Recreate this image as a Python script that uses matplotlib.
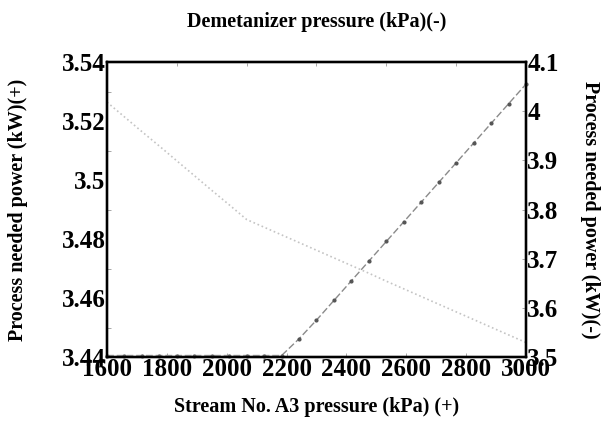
import numpy as np
import matplotlib
matplotlib.use("Agg")
import matplotlib.pyplot as plt
from matplotlib.ticker import MultipleLocator

plt.rcParams['font.family'] = ['Liberation Serif', 'DejaVu Serif']
plt.rcParams['font.weight'] = 'bold'

# stream A3 pressure (kPa), shared x for both curves
a3_pressure = [1600, 1658.3, 1716.7, 1775, 1833.3, 1891.7, 1950, 2008.3, 2066.7,
               2125, 2183.3, 2241.7, 2300, 2358.3, 2416.7, 2475, 2533.3, 2591.7,
               2650, 2708.3, 2766.7, 2825, 2883.3, 2941.7, 3000]

# power vs A3 pressure (left axis, dotted)
power_a3 = [3.5264, 3.5214, 3.5164, 3.5115, 3.5065, 3.5015, 3.4965, 3.4916, 3.4866,
            3.4840, 3.4814, 3.4788, 3.4762, 3.4736, 3.4710, 3.4684, 3.4657, 3.4631,
            3.4605, 3.4579, 3.4553, 3.4527, 3.4501, 3.4475, 3.4449]

# power vs demetanizer pressure (right axis, dashed with markers)
power_demet = [3.503, 3.503, 3.503, 3.503, 3.503, 3.503, 3.503, 3.503, 3.503, 3.503, 3.503,
               3.537, 3.575, 3.615, 3.655, 3.695, 3.735, 3.775, 3.815,
               3.855, 3.895, 3.935, 3.975, 4.015, 4.055]

fig = plt.figure(figsize=(6.03, 4.33), dpi=100)
ax = fig.add_axes([0.1774, 0.1755, 0.6949, 0.6813])

ax.plot(a3_pressure, power_a3, ls=':', color='#c4c4c4', lw=1.2)
ax.set_xlim(1600, 3000)
ax.set_ylim(3.44, 3.54)
ax.xaxis.set_major_locator(MultipleLocator(200))
ax.yaxis.set_minor_locator(MultipleLocator(0.01))
ax.set_yticks([3.44, 3.46, 3.48, 3.5, 3.52, 3.54])
ax.set_yticklabels(['3.44', '3.46', '3.48', '3.5', '3.52', '3.54'])
ax.tick_params(axis='both', which='both', direction='in', labelsize=18,
               length=3, width=0.6, color='#999999', pad=1)
ax.tick_params(axis='y', which='major', length=0)
ax.set_xlabel('Stream No. A3 pressure (kPa) (+)', fontsize=14.5, fontweight='bold', labelpad=11)
ax.set_ylabel('Process needed power (kW)(+)', fontsize=14.5, fontweight='bold', labelpad=24)

ax2 = ax.twinx()
ax2.plot(a3_pressure, power_demet, ls=(0, (5, 2)), color='#8a8a8a', lw=1.0,
         marker='.', ms=4, mfc='#555555', mec='#555555', clip_on=False, zorder=5)
ax2.set_ylim(3.5, 4.1)
ax2.set_yticks([3.5, 3.6, 3.7, 3.8, 3.9, 4.0, 4.1])
ax2.set_yticklabels(['3.5', '3.6', '3.7', '3.8', '3.9', '4', '4.1'])
ax2.tick_params(axis='y', direction='in', labelsize=18, length=3, width=0.6,
                color='#999999', pad=1)
ax2.set_ylabel('Process needed power (kW)(-)', fontsize=14.5, fontweight='bold',
               rotation=-90, labelpad=30)

ax3 = ax.twiny()
ax3.set_xlim(0, 6)
ax3.set_xticks([1, 2, 3, 4, 5])
ax3.tick_params(axis='x', direction='in', labeltop=False, length=3, width=0.6,
                color='#999999')
ax3.set_xlabel('Demetanizer pressure (kPa)(-)', fontsize=14.5, fontweight='bold', labelpad=25)

for a in (ax, ax2, ax3):
    for s in a.spines.values():
        s.set_linewidth(1.6)

fig.savefig('out.png', dpi=100)
